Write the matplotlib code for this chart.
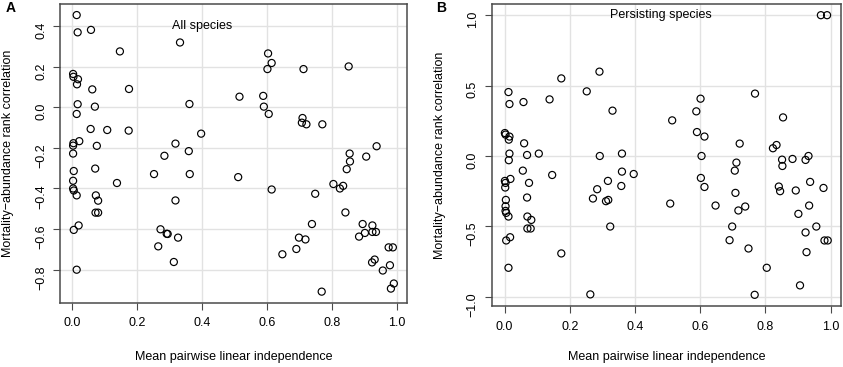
import numpy as np
import matplotlib
matplotlib.use("Agg")
import matplotlib.pyplot as plt

plt.rcParams['font.family'] = ['Liberation Sans', 'DejaVu Sans']

# panel A: all species
all_x = [0.014, 0.017, 0.058, 0.147, 0.332, 0.003, 0.004, 0.018, 0.015, 0.062,
         0.175, 0.017, 0.070, 0.361, 0.014, 0.057, 0.108, 0.174, 0.397, 0.004,
         0.022, 0.003, 0.076, 0.003, 0.318, 0.359, 0.284, 0.005, 0.071, 0.252,
         0.362, 0.003, 0.003, 0.005, 0.014, 0.138, 0.073, 0.080, 0.318, 0.072,
         0.080, 0.020, 0.005, 0.272, 0.291, 0.294, 0.326, 0.265, 0.313, 0.014,
         0.603, 0.614, 0.601, 0.712, 0.851, 0.515, 0.588, 0.590, 0.605, 0.709,
         0.707, 0.721, 0.770, 0.937, 0.854, 0.905, 0.855, 0.845, 0.511, 0.614,
         0.804, 0.824, 0.834, 0.748, 0.841, 0.738, 0.894, 0.924, 0.901, 0.924,
         0.935, 0.883, 0.698, 0.718, 0.690, 0.647, 0.974, 0.987, 0.931, 0.923,
         0.978, 0.956, 0.990, 0.981, 0.768]
all_y = [0.454, 0.369, 0.381, 0.275, 0.319, 0.164, 0.150, 0.138, 0.113, 0.088,
         0.090, 0.015, 0.003, 0.016, -0.033, -0.107, -0.112, -0.115, -0.130, -0.177,
         -0.167, -0.189, -0.190, -0.228, -0.179, -0.216, -0.239, -0.314, -0.302, -0.329,
         -0.329, -0.362, -0.400, -0.410, -0.434, -0.373, -0.434, -0.460, -0.459, -0.519,
         -0.519, -0.582, -0.604, -0.601, -0.623, -0.624, -0.642, -0.685, -0.762, -0.800,
         0.265, 0.218, 0.188, 0.188, 0.201, 0.052, 0.056, 0.003, -0.033, -0.053,
         -0.076, -0.084, -0.084, -0.192, -0.228, -0.243, -0.267, -0.305, -0.344, -0.405,
         -0.378, -0.400, -0.387, -0.426, -0.518, -0.575, -0.575, -0.582, -0.619, -0.614,
         -0.614, -0.637, -0.642, -0.651, -0.698, -0.724, -0.690, -0.690, -0.750, -0.764,
         -0.778, -0.804, -0.868, -0.893, -0.908]

# panel B: persisting species
pers_x = [0.291, 0.174, 0.252, 0.012, 0.015, 0.058, 0.138, 0.331, 0.001, 0.003,
          0.015, 0.013, 0.060, 0.015, 0.069, 0.105, 0.013, 0.292, 0.360, 0.056,
          0.146, 0.360, 0.396, 0.970, 0.989, 0.768, 0.601, 0.588, 0.854, 0.514,
          0.590, 0.613, 0.721, 0.834, 0.823, 0.604, 0.851, 0.883, 0.923, 0.932,
          0.711, 0.852, 0.706, 0.602, 0.001, 0.003, 0.018, 0.002, 0.075, 0.004,
          0.069, 0.003, 0.003, 0.005, 0.012, 0.070, 0.082, 0.070, 0.080, 0.005,
          0.017, 0.012, 0.174, 0.263, 0.271, 0.284, 0.317, 0.311, 0.318, 0.324,
          0.358, 0.613, 0.508, 0.647, 0.708, 0.717, 0.738, 0.698, 0.690, 0.748,
          0.804, 0.767, 0.841, 0.845, 0.893, 0.937, 0.978, 0.934, 0.901, 0.956,
          0.923, 0.981, 0.991, 0.926, 0.906]
pers_y = [0.599, 0.551, 0.459, 0.454, 0.369, 0.383, 0.402, 0.322, 0.163, 0.152,
          0.138, 0.116, 0.090, 0.017, 0.007, 0.017, -0.030, 0.000, 0.017, -0.104,
          -0.135, -0.111, -0.128, 1.000, 1.000, 0.443, 0.407, 0.317, 0.274, 0.253,
          0.170, 0.138, 0.088, 0.078, 0.055, 0.000, -0.026, -0.021, -0.028, 0.000,
          -0.047, -0.071, -0.104, -0.156, -0.177, -0.191, -0.163, -0.224, -0.191, -0.312,
          -0.295, -0.357, -0.390, -0.404, -0.430, -0.430, -0.454, -0.515, -0.515, -0.600,
          -0.577, -0.794, -0.692, -0.983, -0.302, -0.236, -0.177, -0.321, -0.312, -0.501,
          -0.213, -0.220, -0.338, -0.352, -0.262, -0.387, -0.359, -0.501, -0.598, -0.657,
          -0.794, -0.986, -0.217, -0.250, -0.245, -0.184, -0.227, -0.352, -0.411, -0.501,
          -0.543, -0.600, -0.600, -0.683, -0.919]

xticks = [0.0, 0.2, 0.4, 0.6, 0.8, 1.0]
all_yticks = [-0.8, -0.6, -0.4, -0.2, 0.0, 0.2, 0.4]
pers_yticks = [-1.0, -0.5, 0.0, 0.5, 1.0]

xlab = "Mean pairwise linear independence"
ylab = "Mortality\u2212abundance rank correlation"

fig = plt.figure(figsize=(8.43, 3.67), dpi=100)
axA = fig.add_axes([0.0715, 0.1752, 0.4109, 0.8139])
axB = fig.add_axes([0.5836, 0.1662, 0.4136, 0.8229])


def draw(ax, x, y, yticks):
    ax.scatter(x, y, s=26, facecolors='none', edgecolors='black', linewidths=0.85, zorder=3)
    ax.margins(0.04)  # R style 4% padding
    ax.set_xticks(xticks)
    ax.set_yticks(yticks)
    ax.grid(True, color='#e2e2e2', lw=1)
    ax.set_axisbelow(True)
    for s in ax.spines.values():
        s.set_color('#4a4a4a')
        s.set_linewidth(1.1)
    ax.tick_params(direction='out', length=5, width=0.8, color='#4a4a4a', labelsize=9)
    ax.tick_params(axis='x', pad=5.5)
    ax.tick_params(axis='y', pad=4.5, labelrotation=90)


draw(axA, all_x, all_y, all_yticks)
draw(axB, pers_x, pers_y, pers_yticks)

axA.text(0.40, 0.40, "All species", ha='center', va='center', fontsize=9)
axB.text(0.48, 1.0, "Persisting species", ha='center', va='center', fontsize=9)

fig.text(10.5 / 843, 1 - 8.5 / 367, "A", fontsize=10, fontweight='bold', ha='center', va='center')
fig.text(441 / 843, 1 - 8.5 / 367, "B", fontsize=10, fontweight='bold', ha='center', va='center')

fig.text(8 / 843, 1 - 153.4 / 367, ylab, rotation=90, fontsize=9, ha='center', va='center')
fig.text(440 / 843, 1 - 155 / 367, ylab, rotation=90, fontsize=9, ha='center', va='center')
fig.text(233.5 / 843, 1 - 357 / 367, xlab, fontsize=9, ha='center', va='center')
fig.text(666.3 / 843, 1 - 357 / 367, xlab, fontsize=9, ha='center', va='center')

fig.savefig("out.png", dpi=100)
